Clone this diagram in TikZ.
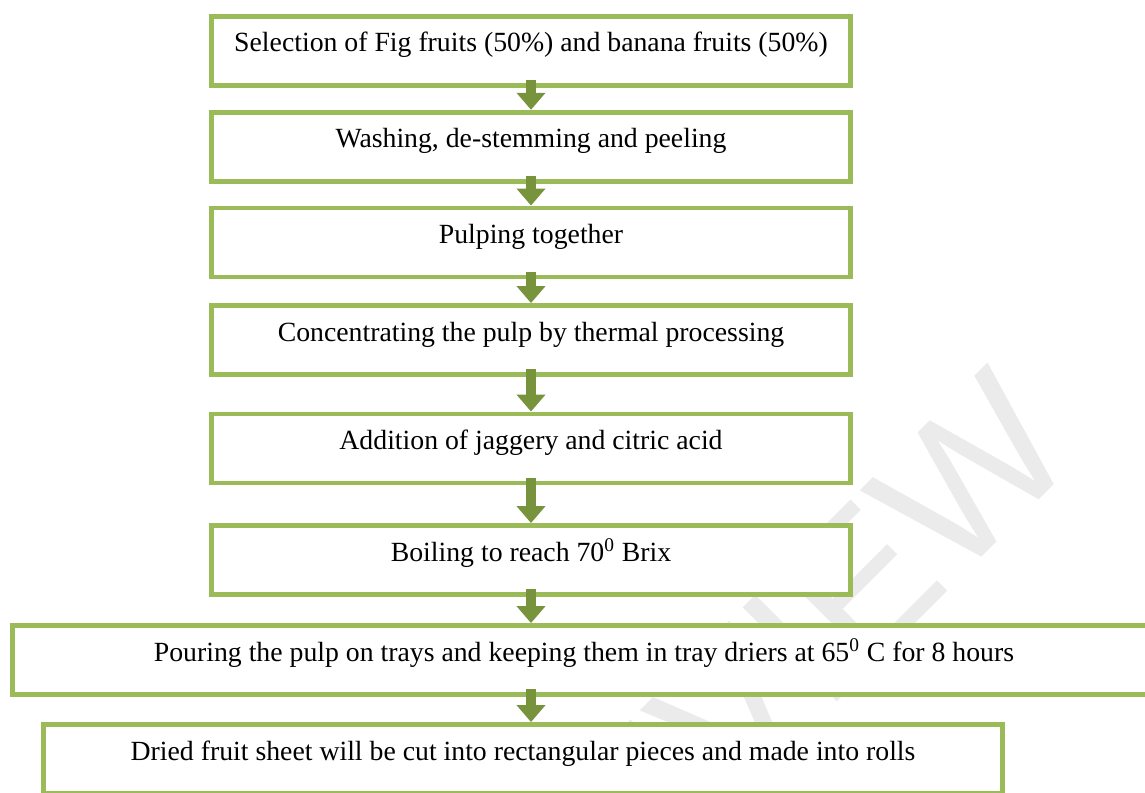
\documentclass[tikz,border=0pt]{standalone}
\usepackage{fontspec}
\setmainfont{Liberation Serif}
\newfontfamily\wmfont{Liberation Sans}
\usepackage{tikz}
\usetikzlibrary{arrows.meta}

\definecolor{boxgreen}{HTML}{9BBB59}
\definecolor{arrowgreen}{HTML}{77933C}

\tikzset{
  stepbox/.style={draw=boxgreen, fill=white, line width=2.8pt, minimum height=1.38cm,
    text height=0.56cm, text depth=0.52cm, inner sep=0pt,
    font=\fontsize{15.8pt}{19pt}\selectfont},
  flow/.style={draw=arrowgreen, line width=0.2cm,
    -{Triangle[width=0.56cm,length=0.34cm]}, shorten <=-1.5mm}
}

\begin{document}
\begin{tikzpicture}[x=0.02cm,y=-0.02cm]
% Diagrama de flujo: lámina de fruta de higo y plátano
\clip (0,0) rectangle (1145,792);
\node (wm) at (1040,405) [anchor=east, rotate=45, text=black!8,
  font=\wmfont\fontsize{110pt}{110pt}\selectfont] {PREVIEW};

\node (b1) at (531,50.75) [stepbox, minimum width=12.8cm] {Selection of Fig fruits (50\%) and banana fruits (50\%)};
\node (b2) at (531,146.75) [stepbox, minimum width=12.8cm] {Washing, de-stemming and peeling};
\node (b3) at (531,242.5) [stepbox, minimum width=12.8cm] {Pulping together};
\node (b4) at (531,340) [stepbox, minimum width=12.8cm] {Concentrating the pulp by thermal processing};
\node (b5) at (531,448.5) [stepbox, minimum width=12.8cm] {Addition of jaggery and citric acid};
\node (b6) at (531,560) [stepbox, minimum width=12.8cm] {Boiling to reach 70\textsuperscript{0} Brix};
\node (b7) at (584,660) [stepbox, minimum width=22.85cm] {Pouring the pulp on trays and keeping them in tray driers at 65\textsuperscript{0} C for 8 hours};
\node (b8) at (523,759) [stepbox, minimum width=19.2cm] {Dried fruit sheet will be cut into rectangular pieces and made into rolls};

\draw[flow] (b1.south) -- (b2.north);
\draw[flow] (b2.south) -- (b3.north);
\draw[flow] (b3.south) -- (b4.north);
\draw[flow] (b4.south) -- (b5.north);
\draw[flow] (b5.south) -- (b6.north);
\draw[flow] (b6.south) -- (b6.south |- b7.north);
\draw[flow] (b6.south |- b7.south) -- (b6.south |- b8.north);
\end{tikzpicture}
\end{document}
